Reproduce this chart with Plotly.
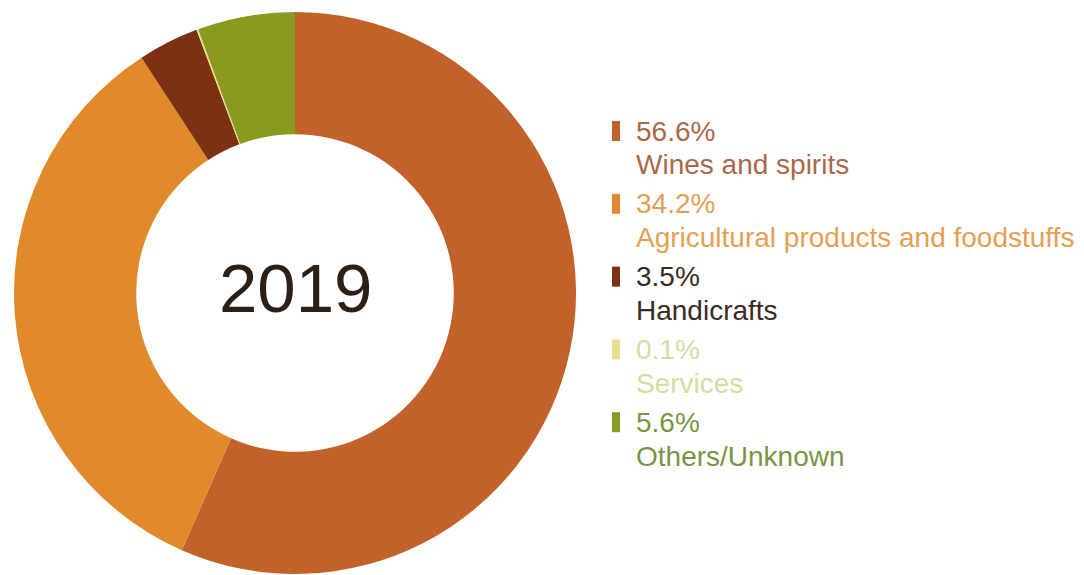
import plotly.graph_objects as go

categories = ["Wines and spirits", "Agricultural products and foodstuffs",
              "Handicrafts", "Services", "Others/Unknown"]
shares = [56.6, 34.2, 3.5, 0.1, 5.6]
slice_colors = ["#C2622A", "#E18A2B", "#7C3113", "#E6E08C", "#8A9A1F"]
text_colors = ["#A8694A", "#E3A054", "#3B2A22", "#D5DEA2", "#7B9443"]
center_label = "2019"

W, H = 1084, 575
OFF = 8  # page body margin offset


def px_x(x):
    return (x - OFF) / W


def px_y(y):
    return 1 - (y - OFF) / H


fig = go.Figure()
fig.add_trace(go.Pie(
    labels=categories,
    values=shares,
    sort=False,
    direction="clockwise",
    rotation=0,
    hole=0.565,
    marker=dict(colors=slice_colors, line=dict(width=0)),
    textinfo="none",
    hoverinfo="label+percent",
    showlegend=False,
    domain=dict(x=[px_x(12), px_x(578)], y=[px_y(574), px_y(12)]),
))

font_family = "Liberation Sans, Arial, sans-serif"

# centre label
fig.add_annotation(
    x=px_x(296), y=px_y(289), xref="paper", yref="paper",
    text=center_label, showarrow=False,
    font=dict(family=font_family, size=69, color="#2B1F17"),
    xanchor="center", yanchor="middle",
)

# custom two-line legend
entry_top = 131
entry_step = 72.8
line_gap = 34
text_x = 634
for i, (cat, val) in enumerate(zip(categories, shares)):
    yc = entry_top + i * entry_step
    fig.add_shape(
        type="rect", xref="paper", yref="paper",
        x0=px_x(612), x1=px_x(620),
        y0=px_y(yc + 10), y1=px_y(yc - 10),
        fillcolor=slice_colors[i], line=dict(width=0),
    )
    fig.add_annotation(
        x=px_x(text_x), y=px_y(yc), xref="paper", yref="paper",
        text=f"{val:.1f}%", showarrow=False,
        font=dict(family=font_family, size=28, color=text_colors[i]),
        xanchor="left", yanchor="middle",
    )
    fig.add_annotation(
        x=px_x(text_x), y=px_y(yc + line_gap), xref="paper", yref="paper",
        text=cat, showarrow=False,
        font=dict(family=font_family, size=28, color=text_colors[i]),
        xanchor="left", yanchor="middle",
    )

fig.update_layout(
    width=W, height=H,
    margin=dict(l=0, r=0, t=0, b=0),
    paper_bgcolor="white",
    plot_bgcolor="white",
)

fig.write_html("out.html")
